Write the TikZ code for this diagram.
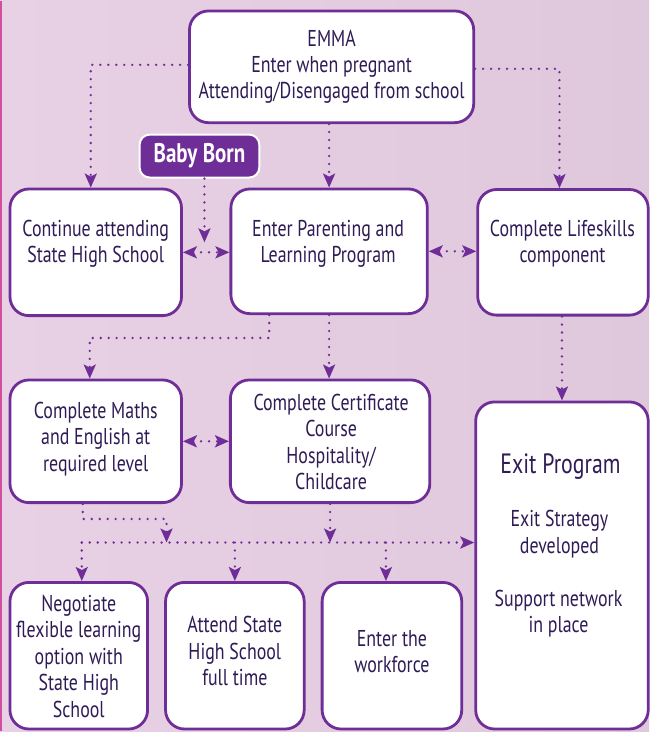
\documentclass[tikz,border=0pt]{standalone}
\usepackage{fontspec}
\setmainfont[FakeStretch=0.78]{PT Sans}
\usepackage{tikz}
\usetikzlibrary{arrows.meta}
\usepackage{xcolor}
\definecolor{plum}{HTML}{6F2E97}
\definecolor{ink}{HTML}{2F1B55}
\definecolor{bgleft}{HTML}{E8D0E5}
\definecolor{bgright}{HTML}{E0C8DC}
\definecolor{rim}{HTML}{D24FA0}

\tikzset{
  box/.style={draw=plum, line width=2.8pt, fill=white, rounded corners=19pt, inner sep=0pt},
  txt/.style={text=ink, align=center, font=\fontsize{23}{26.5}\selectfont},
  link/.style={plum, line width=2.6pt, line cap=round, dash pattern=on 0pt off 8pt},
}

\begin{document}
\begin{tikzpicture}[x=1pt,y=-1pt,>={Stealth[length=14pt,width=12pt,inset=3pt]}]
%%%BACKGROUND
\shade[left color=bgleft, right color=bgright] (0,0) rectangle (651,732);
\draw[rim, line width=2pt] (1,0) -- (1,732);
\useasboundingbox (0,0) rectangle (651,732);

%%%BOXES
\node[box, minimum width=285pt, minimum height=112pt] (emma) at (332.5,66) {};
\node[box, fill=plum, draw=white, line width=2pt, rounded corners=10pt,
      minimum width=120pt, minimum height=43pt, text=white,
      font=\fontsize{27}{30}\selectfont\bfseries] (baby) at (200,155.5) {Baby Born};
\node[box, minimum width=172pt, minimum height=127pt] (cont) at (96,252) {};
\node[box, minimum width=197pt, minimum height=125pt] (parent) at (330,251) {};
\node[box, minimum width=171pt, minimum height=126pt] (life) at (564.5,252) {};
\node[box, minimum width=172pt, minimum height=123pt] (maths) at (96,441.5) {};
\node[box, minimum width=200pt, minimum height=123pt] (cert) at (331,441.5) {};
\node[box, minimum width=173pt, minimum height=328pt] (exit) at (563.5,566) {};
\node[box, minimum width=138pt, minimum height=147pt] (nego) at (79,656.5) {};
\node[box, minimum width=139pt, minimum height=147pt] (attend) at (235.5,656.5) {};
\node[box, minimum width=140pt, minimum height=147pt] (work) at (393,656.5) {};

%%%TEXTS
\node[txt] (emma-t) at (332.5,66) {EMMA\\Enter when pregnant\\Attending/Disengaged from school};
\node[txt] (cont-t) at (96,243.5) {Continue attending\\State High School};
\node[txt] (parent-t) at (329,243.5) {Enter Parenting and\\Learning Program};
\node[txt] (life-t) at (564,243.5) {Complete Lifeskills\\component};
\node[txt] (maths-t) at (96,439) {Complete Maths\\and English at\\required level};
\node[txt] (cert-t) at (332,442) {Complete Certificate\\Course\\Hospitality/\\Childcare};
\node[txt, font=\fontsize{28}{32}\selectfont] (exit-t1) at (562,467) {Exit Program};
\node[txt] (exit-t2) at (561,534.5) {Exit Strategy\\developed};
\node[txt] (exit-t3) at (560,614.5) {Support network\\in place};
\node[txt] (nego-t) at (79,657) {Negotiate\\flexible learning\\option with\\State High\\School};
\node[txt] (attend-t) at (235.5,652) {Attend State\\High School\\full time};
\node[txt] (work-t) at (393,652.5) {Enter the\\workforce};

%%%CONNECTORS
\coordinate (bb-end) at (205,242);
\coordinate (join-a) at (167,543);
\coordinate (bus-l) at (82,543);
\draw[link,->] ([yshift=2pt]emma.west) -| ([xshift=-5pt]cont.north);
\draw[link,->] (emma.south -| parent.north) -- (parent.north);
\draw[link,->] ([yshift=-2pt]emma.east) -| ([xshift=-3.5pt]life.north);
\draw[link,->] ([xshift=5pt]baby.south) -- (bb-end);
\draw[link,<->] (cont.east) -- (cont.east -| parent.west);
\draw[link,<->] (parent.east) -- (parent.east -| life.west);
\draw[link,->] ([xshift=-60pt]parent.south) -- ++(0,23) -| ([xshift=-6pt]maths.north);
\draw[link,->] (parent.south) -- (parent.south |- cert.north);
\draw[link,->] ([xshift=-1pt]life.south) -- ([xshift=-1pt]life.south |- exit.north);
\draw[link,<->] (maths.east) -- (maths.east -| cert.west);
\draw[link,->] ([xshift=-13pt]maths.south) -- ++(0,15) -| (join-a);
\draw[link,->] (cert.south) -- (cert.south |- join-a);
\draw[link,->] (bus-l) -- (bus-l -| exit.west);
\draw[link,->] (bus-l) -- (bus-l |- nego.north);
\draw[link,->] (bus-l -| attend.north) -- (attend.north);
\draw[link,->] (bus-l -| work.north) ++(-6,0) -- ([xshift=-6pt]work.north);
\end{tikzpicture}
\end{document}
